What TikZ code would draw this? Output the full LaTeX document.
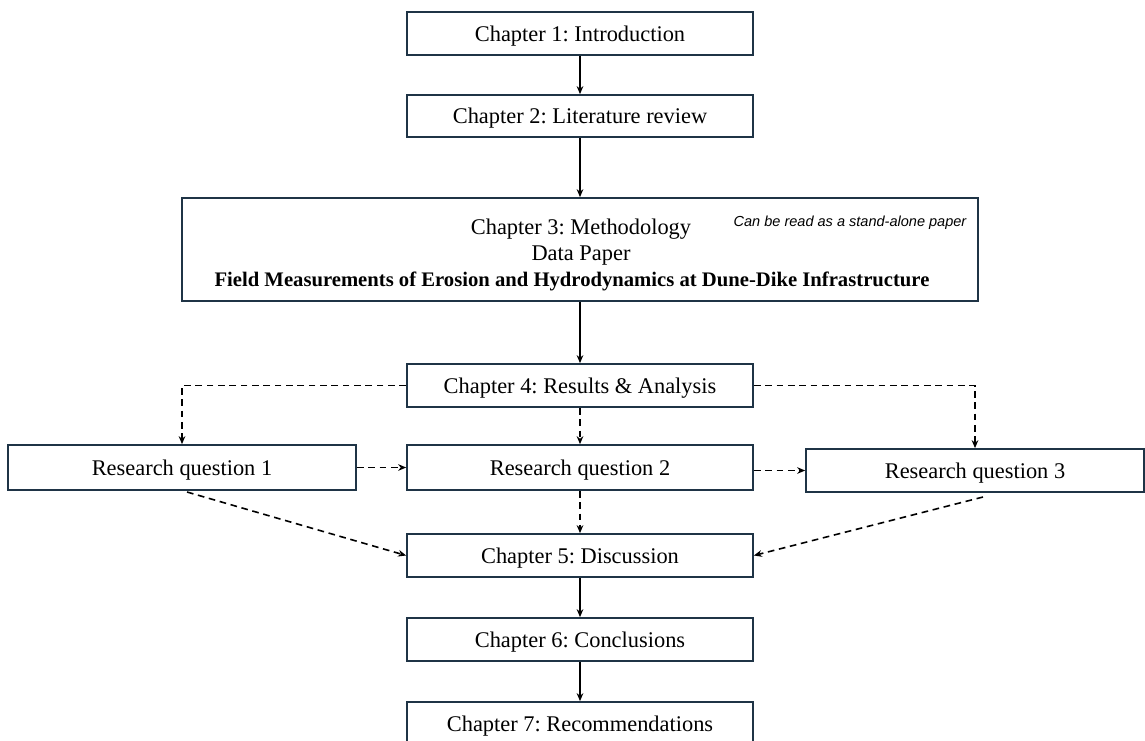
\documentclass[tikz,border=0pt]{standalone}
\usepackage{fontspec}
\setmainfont{Liberation Serif}
\newfontfamily\notefont{Liberation Sans}
\usetikzlibrary{arrows.meta}
\definecolor{boxc}{HTML}{1F3446}
\frenchspacing
\tikzset{
  box/.style={draw=boxc, line width=1.3pt, rectangle, inner sep=0pt, text depth=0pt, font=\fontsize{16.8}{19}\selectfont},
  conn/.style={line width=1.2pt, -{Stealth[length=6pt,width=5pt]}},
  dconn/.style={conn, dash pattern=on 5pt off 3.5pt},
  txt/.style={inner sep=0pt, font=\fontsize{16.8}{19}\selectfont}
}
\begin{document}
\begin{tikzpicture}[x=0.75pt,y=-0.75pt]
\useasboundingbox (0,0) rectangle (1145,740);
\clip (0,0) rectangle (1145,740);
\node[box, minimum width=346*0.75pt, minimum height=43*0.75pt] (c1) at (580,33.5) {Chapter 1: Introduction};
\node[box, minimum width=346*0.75pt, minimum height=42*0.75pt] (c2) at (580,116) {Chapter 2: Literature review};
\node[box, minimum width=796*0.75pt, minimum height=103*0.75pt] (c3) at (580,249.5) {};
\node[txt] (c3a) at (581,229) {Chapter 3: Methodology};
\node[txt] (c3b) at (581,256) {Data Paper};
\node[txt, font=\fontsize{15.5}{17}\selectfont\bfseries] (c3c) at (572,281) {Field Measurements of Erosion and Hydrodynamics at Dune-Dike Infrastructure};
\node[inner sep=0pt, font=\notefont\itshape\fontsize{10.9}{12}\selectfont] (note) at (850,223) {Can be read as a stand-alone paper};
\node[box, minimum width=346*0.75pt, minimum height=43*0.75pt] (c4) at (580,385.5) {Chapter 4: Results \& Analysis};
\node[box, minimum width=348*0.75pt, minimum height=45*0.75pt] (r1) at (182,467.5) {Research question 1};
\node[box, minimum width=346*0.75pt, minimum height=45*0.75pt] (r2) at (580,467.5) {Research question 2};
\node[box, minimum width=338*0.75pt, minimum height=43*0.75pt] (r3) at (975,470.5) {Research question 3};
\node[box, minimum width=346*0.75pt, minimum height=43*0.75pt] (c5) at (580,555.5) {Chapter 5: Discussion};
\node[box, minimum width=346*0.75pt, minimum height=43*0.75pt] (c6) at (580,639.5) {Chapter 6: Conclusions};
\node[box, minimum width=346*0.75pt, minimum height=44*0.75pt] (c7) at (580,724) {Chapter 7: Recommendations};
\coordinate (r1s) at (187,492);
\coordinate (r3s) at (983,497);
\draw[conn] (c1) -- (c2);
\draw[conn] (c2) -- (c3);
\draw[conn] (c3) -- (c4);
\draw[dconn] (c4.west) -| (r1.north);
\draw[dconn] (c4.east) -| (r3.north);
\draw[dconn] (c4) -- (r2);
\draw[dconn] (r1.east |- r2.west) -- (r2.west);
\draw[dconn] (r2.east |- r3.west) -- (r3.west);
\draw[dconn] (r2) -- (c5);
\draw[dconn] (r1s) -- (c5.west);
\draw[dconn] (r3s) -- (c5.east);
\draw[conn] (c5) -- (c6);
\draw[conn] (c6) -- (c7);
\end{tikzpicture}
\end{document}
